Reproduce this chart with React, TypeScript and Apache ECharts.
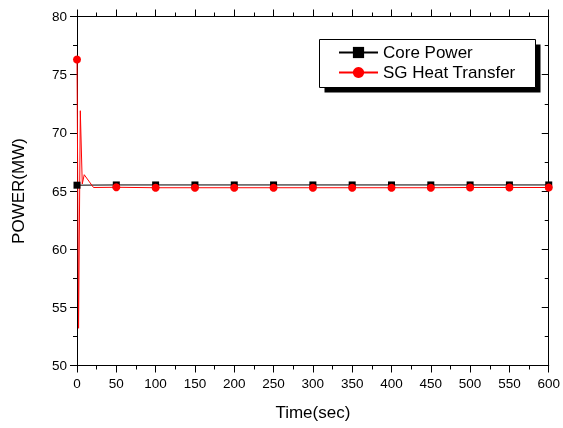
import React, { useEffect, useRef } from "react";
import * as echarts from "echarts";

const coreTime = [0, 50, 100, 150, 200, 250, 300, 350, 400, 450, 500, 550, 600];
const coreValues = [65.5, 65.52, 65.52, 65.52, 65.52, 65.52, 65.52, 65.52, 65.52, 65.52, 65.52, 65.52, 65.52];

const sgTime = [0, 2, 4.2, 6.7, 9.2, 21, 50, 100, 150, 200, 250, 300, 350, 400, 450, 500, 550, 600];
const sgValues = [76.3, 53.2, 71.9, 65.6, 66.4, 65.3, 65.32, 65.28, 65.28, 65.28, 65.28, 65.28, 65.28, 65.28, 65.28, 65.3, 65.3, 65.3];

const FONT = "Liberation Sans, Arial, sans-serif";
const X_MIN = 0, X_MAX = 600, Y_MIN = 50, Y_MAX = 80;

export default function App() {
  const ref = useRef<HTMLDivElement>(null);
  useEffect(() => {
    if (!ref.current) return;
    const chart = echarts.init(ref.current, null, { renderer: "svg" });
    const mark = (t: number) => t % 50 === 0;
    const coreData = coreTime.map((t, i) =>
      mark(t) ? [t, coreValues[i]] : { value: [t, coreValues[i]], symbol: "none" }
    );
    const sgData = sgTime.map((t, i) =>
      mark(t) ? [t, sgValues[i]] : { value: [t, sgValues[i]], symbol: "none" }
    );
    const mkAxis = (inside: boolean) => ({
      type: "value",
      axisLine: { show: true, onZero: false, lineStyle: { color: "#000", width: 1 } },
      axisTick: { show: true, inside, length: 7, lineStyle: { color: "#000", width: 1 } },
      splitLine: { show: false },
      minorTick: { show: true, splitNumber: 2, length: 4, lineStyle: { color: "#000", width: 1 } },
      minorSplitLine: { show: false },
    });
    chart.setOption({
      animation: false,
      grid: { left: 77, right: 11.5, top: 16.5, bottom: 62.5 },
      graphic: [
        { type: "rect", z: 10, shape: { x: 324.5, y: 44.5, width: 216, height: 48 }, style: { fill: "#000" }, silent: true },
        { type: "rect", z: 11, shape: { x: 319.5, y: 39.5, width: 216, height: 48 }, style: { fill: "#fff", stroke: "#000", lineWidth: 1 }, silent: true },
      ],
      legend: {
        orient: "vertical",
        left: 319,
        top: 39,
        z: 20,
        padding: [5, 20, 5, 19],
        itemGap: 3,
        itemWidth: 39,
        itemHeight: 14,
        textStyle: { fontFamily: FONT, fontSize: 17, color: "#000" },
        data: ["Core Power", "SG Heat Transfer"],
      },
      xAxis: [
        {
          ...mkAxis(false),
          position: "bottom",
          min: X_MIN,
          max: X_MAX,
          interval: 50,
          name: "Time(sec)",
          nameLocation: "middle",
          nameGap: 38,
          nameTextStyle: { fontFamily: FONT, fontSize: 17, color: "#000" },
          axisLabel: { fontFamily: FONT, fontSize: 13.5, color: "#000", margin: 11 },
        },
        {
          ...mkAxis(false),
          position: "top",
          min: X_MIN,
          max: X_MAX,
          interval: 50,
          axisLabel: { show: false },
        },
      ],
      yAxis: [
        {
          ...mkAxis(false),
          position: "left",
          min: Y_MIN,
          max: Y_MAX,
          interval: 5,
          name: "POWER(MW)",
          nameLocation: "middle",
          nameGap: 50,
          nameTextStyle: { fontFamily: FONT, fontSize: 17, color: "#000" },
          axisLabel: { fontFamily: FONT, fontSize: 13.5, color: "#000", margin: 10 },
        },
        {
          ...mkAxis(true),
          position: "right",
          min: Y_MIN,
          max: Y_MAX,
          interval: 5,
          axisLabel: { show: false },
        },
      ],
      series: [
        {
          name: "Core Power",
          type: "line",
          data: coreData,
          symbol: "rect",
          symbolSize: 7,
          showSymbol: true,
          showAllSymbol: true,
          itemStyle: { color: "#000" },
          lineStyle: { color: "#000", width: 1 },
        },
        {
          name: "SG Heat Transfer",
          type: "line",
          data: sgData,
          symbol: "circle",
          symbolSize: 8,
          showSymbol: true,
          showAllSymbol: true,
          itemStyle: { color: "#ff0000" },
          lineStyle: { color: "#ff0000", width: 1 },
        },
      ],
    });
    return () => chart.dispose();
  }, []);
  return <div ref={ref} style={{ position: "fixed", left: 0, top: 0, width: 563, height: 428 }} />;
}
